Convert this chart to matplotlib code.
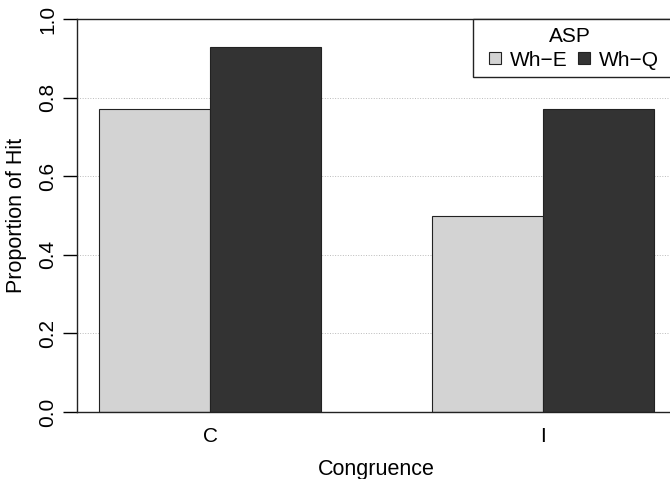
import matplotlib
matplotlib.use('Agg')
import matplotlib.pyplot as plt
from matplotlib.lines import Line2D
from matplotlib.patches import Rectangle

categories = ['C', 'I']
series = ['Wh\u2212E', 'Wh\u2212Q']
values = {'Wh\u2212E': [0.77, 0.50],
          'Wh\u2212Q': [0.93, 0.77]}
colors = ['#d3d3d3', '#333333']
yticks = [0.0, 0.2, 0.4, 0.6, 0.8, 1.0]

plt.rcParams['font.family'] = ['Liberation Sans', 'DejaVu Sans']

fig = plt.figure(figsize=(6.7, 4.79), dpi=100)
# right edge sits a little outside the picture, like the cropped original
ax = fig.add_axes([77/670, 1-412/479, (676-77)/670, (412-19)/479])

# R style positions: bars of width 1, one bar gap between groups
for j, s in enumerate(series):
    lefts = [1 + 3*i + j for i in range(len(categories))]
    ax.bar(lefts, values[s], width=1, align='edge', color=colors[j],
           edgecolor='#222222', linewidth=0.8, zorder=2)

for y in yticks[1:-1]:
    ax.axhline(y, color='#bbbbbb', linestyle=':', linewidth=0.7, zorder=1)

ax.set_xlim(0.8, 6.2)
ax.set_ylim(0, 1)
ax.set_xticks([2 + 3*i for i in range(len(categories))])
ax.set_xticklabels(categories)
ax.tick_params(axis='x', length=0, pad=11, labelsize=15)
ax.set_yticks(yticks)
ax.set_yticklabels(['%.1f' % t for t in yticks], rotation=90, va='center')
ax.tick_params(axis='y', length=10, width=1, labelsize=15, pad=4)
for sp in ax.spines.values():
    sp.set_linewidth(1.0)
    sp.set_color('#222222')

ax.set_xlabel('Congruence', fontsize=15.5, labelpad=9)
ax.set_ylabel('Proportion of Hit', fontsize=15.5, labelpad=8)

handles = [Line2D([], [], linestyle='none', marker='s', markersize=8.6,
                  markerfacecolor=colors[j], markeredgecolor='#222222',
                  markeredgewidth=0.8, label=series[j])
           for j in range(len(series))]
leg_x = (473-77)/599
leg = ax.legend(handles=handles, title='ASP', ncol=2, loc='upper left',
                bbox_to_anchor=(leg_x, 1.0), fontsize=15, title_fontsize=15,
                frameon=False, handlelength=1.35, handletextpad=0.0,
                columnspacing=0.15, borderpad=0.4, labelspacing=0.2,
                borderaxespad=0)
leg.set_zorder(6)
# legend box runs off the right edge in the original
box_y = (412-77)/393
ax.add_patch(Rectangle((leg_x, box_y), 0.5, 1.0 - box_y, transform=ax.transAxes,
                       facecolor='white', edgecolor='#222222', linewidth=1.0,
                       clip_on=False, zorder=5))

fig.savefig('out.png', dpi=100)
